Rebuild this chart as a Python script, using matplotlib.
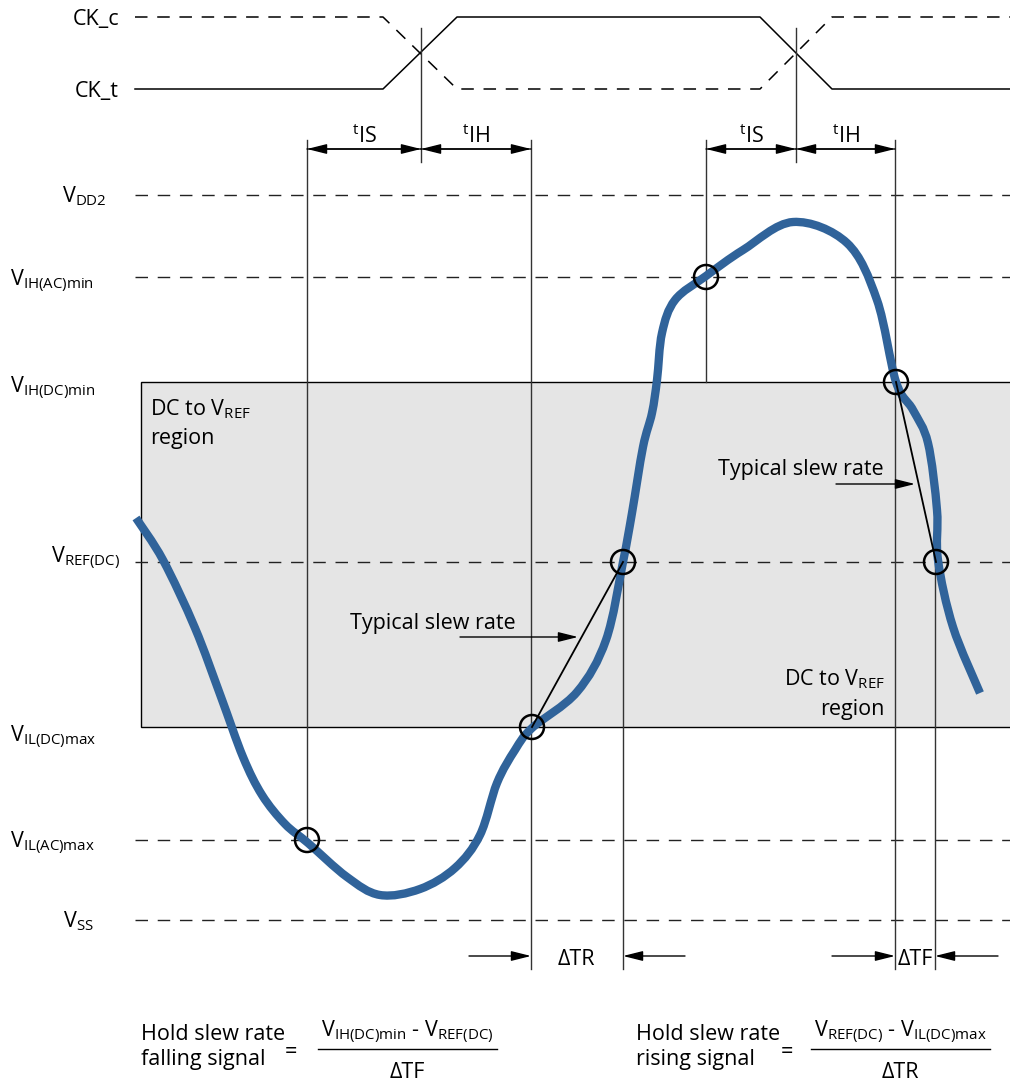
import numpy as np
import matplotlib.pyplot as plt
from matplotlib.path import Path
from matplotlib.patches import PathPatch, Rectangle, Circle

plt.rcParams['font.family'] = ['Open Sans', 'DejaVu Sans']
plt.rcParams['mathtext.fontset'] = 'custom'
plt.rcParams['mathtext.rm'] = 'Open Sans'
plt.rcParams['mathtext.it'] = 'Open Sans:italic'
plt.rcParams['mathtext.bf'] = 'Open Sans:bold'
plt.rcParams['lines.scale_dashes'] = False

# clock waveforms (diagram units = pixels of the original drawing)
clk_x = [135, 383, 457, 760, 832, 1010]
ck_t_y = [89, 89, 17, 17, 89, 89]
ck_c_y = [17, 17, 89, 89, 17, 17]
cross_x = [421, 796]

# voltage levels
level_names = [r'$\mathrm{V_{DD2}}$', r'$\mathrm{V_{IH(AC)min}}$', r'$\mathrm{V_{IH(DC)min}}$',
               r'$\mathrm{V_{REF(DC)}}$', r'$\mathrm{V_{IL(DC)max}}$', r'$\mathrm{V_{IL(AC)max}}$',
               r'$\mathrm{V_{SS}}$']
level_y = [195, 277, 382, 562, 727, 840, 920]
level_dashed = [True, True, False, True, False, True, True]
label_x = [62, 10, 10, 51, 10, 10, 63]
label_dy = [7, 9, 11, 1, 15, 8, 7]

# input signal trace
curve_x = [136, 163, 195, 221, 243, 262, 285, 308, 347, 380, 420, 455, 480, 497, 515, 532,
           577, 606, 623, 632, 643, 652, 657, 662, 675, 706, 743, 793, 847, 877, 896, 913,
           928, 937, 938, 953, 980]
curve_y = [518, 560, 628, 697, 757, 795, 824, 843, 877, 895, 889, 868, 835, 783, 750, 728,
           692, 640, 562, 513, 447, 413, 380, 333, 300, 276, 250, 222, 243, 300, 382, 410,
           443, 510, 560, 627, 693]

# threshold crossings
mark_x = [307, 532, 623, 706, 896, 936]
mark_y = [840, 727, 562, 277, 382, 562]

# setup / hold windows
ts_left = [307, 706]
th_right = [531, 895]

fig = plt.figure(figsize=(10.1, 10.82), dpi=100)
ax = fig.add_axes([0, 0, 1, 1])
ax.set_xlim(0, 1010)
ax.set_ylim(1082, 0)
ax.axis('off')

fs = 15.5
blue = '#30639a'

# clocks
ax.plot(clk_x, ck_t_y, color='black', lw=1.1)
ax.plot(clk_x, ck_c_y, color='black', lw=1.1, dashes=(9, 7))
ax.text(119, 25, 'CK_c', ha='right', va='baseline', fontsize=fs)
ax.text(119, 97, 'CK_t', ha='right', va='baseline', fontsize=fs)

# DC to VREF region
ax.add_patch(Rectangle((141, level_y[2]), 900, level_y[4] - level_y[2],
                       facecolor='#e5e5e5', edgecolor='black', lw=1, zorder=0))

for name, y, dashed, lx, dy in zip(level_names, level_y, level_dashed, label_x, label_dy):
    if dashed:
        ax.plot([135, 1010], [y, y], color='#222222', lw=1, dashes=(9, 7))
    ax.text(lx, y + dy, name, ha='left', va='baseline', fontsize=fs)

# vertical reference lines
vcol = '#333333'
for cx in cross_x:
    ax.plot([cx, cx], [28, 162], color=vcol, lw=1)
ax.plot([307, 307], [140, 840], color=vcol, lw=1)
ax.plot([531, 531], [140, 969], color=vcol, lw=1)
ax.plot([706, 706], [140, 382], color=vcol, lw=1)
ax.plot([895, 895], [140, 969], color=vcol, lw=1)
ax.plot([623, 623], [562, 969], color=vcol, lw=1)
ax.plot([935, 935], [562, 969], color=vcol, lw=1)

def arrow(x0, y0, x1, y1):
    ax.annotate('', xy=(x1, y1), xytext=(x0, y0),
                arrowprops=dict(arrowstyle='-|>,head_length=1.2,head_width=0.3',
                                color='black', lw=1, shrinkA=0, shrinkB=0))

# tIS / tIH
for left, cx, right in zip(ts_left, cross_x, th_right):
    arrow(cx, 149, left, 149)
    arrow(left, 149, cx, 149)
    arrow(right, 149, cx, 149)
    arrow(cx, 149, right, 149)
    ax.text((left + cx) / 2, 143, r'$\mathrm{^{t}IS}$', ha='center', va='baseline', fontsize=fs)
    ax.text((cx + right) / 2, 143, r'$\mathrm{^{t}IH}$', ha='center', va='baseline', fontsize=fs)

# signal
pts = np.column_stack([curve_x, curve_y]).astype(float)
ext = np.vstack([pts[0], pts, pts[-1]])
verts = [pts[0]]
codes = [Path.MOVETO]
for i in range(len(pts) - 1):
    p0, p1, p2, p3 = ext[i], ext[i + 1], ext[i + 2], ext[i + 3]
    verts += [p1 + (p2 - p0) / 6, p2 - (p3 - p1) / 6, p2]
    codes += [Path.CURVE4] * 3
ax.add_patch(PathPatch(Path(verts, codes), facecolor='none', edgecolor=blue,
                       lw=6, capstyle='butt', joinstyle='round', zorder=3))

# typical slew rate lines
ax.plot([mark_x[1], mark_x[2]], [mark_y[1], mark_y[2]], color='black', lw=1.3, zorder=4)
ax.plot([mark_x[4], mark_x[5]], [mark_y[4], mark_y[5]], color='black', lw=1.3, zorder=4)

for mx, my in zip(mark_x, mark_y):
    ax.add_patch(Circle((mx, my), 12, facecolor='none', edgecolor='black', lw=1.8, zorder=5))

ax.text(350, 629, 'Typical slew rate', ha='left', va='baseline', fontsize=fs)
arrow(460, 637, 578, 637)
ax.text(884, 475, 'Typical slew rate', ha='right', va='baseline', fontsize=fs)
arrow(836, 484, 915, 484)

ax.text(150, 415, r'DC to $\mathrm{V_{REF}}$', ha='left', va='baseline', fontsize=fs)
ax.text(150, 444, 'region', ha='left', va='baseline', fontsize=fs)
ax.text(885, 685, r'DC to $\mathrm{V_{REF}}$', ha='right', va='baseline', fontsize=fs)
ax.text(885, 715, 'region', ha='right', va='baseline', fontsize=fs)

# delta T markers
arrow(469, 956, 531, 956)
arrow(685, 956, 623, 956)
ax.text(576, 965, 'ΔTR', ha='center', va='baseline', fontsize=fs)
arrow(832, 956, 895, 956)
arrow(998, 956, 935, 956)
ax.text(915, 965, 'ΔTF', ha='center', va='baseline', fontsize=fs)

# formulas
ax.text(141, 1040, 'Hold slew rate', ha='left', va='baseline', fontsize=fs)
ax.text(141, 1065, 'falling signal', ha='left', va='baseline', fontsize=fs)
ax.text(291, 1058, '=', ha='center', va='baseline', fontsize=fs)
ax.plot([318, 497], [1049, 1049], color='black', lw=1)
ax.text(407, 1037, r'$\mathrm{V_{IH(DC)min}}$ - $\mathrm{V_{REF(DC)}}$', ha='center',
        va='baseline', fontsize=fs)
ax.text(407, 1078, 'ΔTF', ha='center', va='baseline', fontsize=fs)

ax.text(636, 1040, 'Hold slew rate', ha='left', va='baseline', fontsize=fs)
ax.text(636, 1065, 'rising signal', ha='left', va='baseline', fontsize=fs)
ax.text(787, 1058, '=', ha='center', va='baseline', fontsize=fs)
ax.plot([811, 990], [1049, 1049], color='black', lw=1)
ax.text(900, 1037, r'$\mathrm{V_{REF(DC)}}$ - $\mathrm{V_{IL(DC)max}}$', ha='center',
        va='baseline', fontsize=fs)
ax.text(900, 1078, 'ΔTR', ha='center', va='baseline', fontsize=fs)

fig.savefig('out.png', dpi=100)
